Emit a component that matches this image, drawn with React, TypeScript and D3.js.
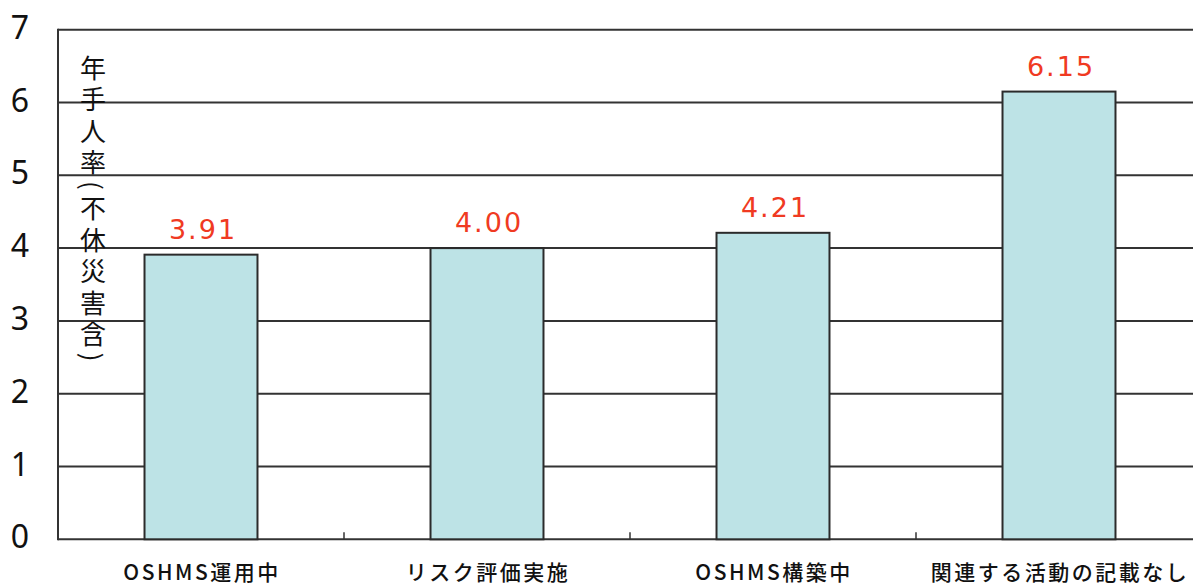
import React from "react";
import * as d3 from "d3";

const categories = ["OSHMS運用中", "リスク評価実施", "OSHMS構築中", "関連する活動の記載なし"];
const values = [3.91, 4.0, 4.21, 6.15];
const valueLabels = ["3.91", "4.00", "4.21", "6.15"];
const yTicks = [0, 1, 2, 3, 4, 5, 6, 7];
const yTitle = "年手人率(不休災害含)";

const W = 1193;
const H = 586;

export default function App() {
  const left = 58;
  const x = d3
    .scaleBand<string>()
    .domain(categories)
    .range([left, left + 286 * categories.length])
    .paddingInner(0.605)
    .paddingOuter(0.3025);
  const y = d3.scaleLinear().domain([0, 7]).range([539.3, 29.7]);
  const step = x.step();
  const [r0] = x.range();
  const gridColor = "#333";

  return (
    <svg
      width={W}
      height={H}
      style={{ position: "absolute", left: 0, top: 0, background: "#fff" }}
    >
      {/* gridlines */}
      {yTicks.map((t) => (
        <line
          key={"g" + t}
          x1={left}
          x2={W + 20}
          y1={y(t)}
          y2={y(t)}
          stroke={gridColor}
          strokeWidth={2}
        />
      ))}
      {/* left axis */}
      <line x1={left} x2={left} y1={y(7) - 1} y2={y(0) + 1} stroke={gridColor} strokeWidth={2} />
      {/* category ticks */}
      {categories.map((c, i) =>
        i === 0 ? null : (
          <line
            key={"t" + c}
            x1={r0 + i * step}
            x2={r0 + i * step}
            y1={y(0)}
            y2={y(0) - 7}
            stroke={gridColor}
            strokeWidth={1.5}
          />
        )
      )}
      {/* y tick labels */}
      {yTicks.map((t) => (
        <text
          key={"yl" + t}
          x={20}
          y={y(t) - 3.5}
          textAnchor="middle"
          dominantBaseline="central"
          fontFamily="'Noto Sans', 'Liberation Sans', sans-serif"
          fontSize={32}
          fill="#111"
        >
          {t}
        </text>
      ))}
      {/* bars */}
      {categories.map((c, i) => (
        <rect
          key={"b" + c}
          x={x(c)}
          y={y(values[i])}
          width={x.bandwidth()}
          height={y(0) - y(values[i])}
          fill="#bde3e6"
          stroke="#2b2b2b"
          strokeWidth={2}
        />
      ))}
      {/* value labels */}
      {categories.map((c, i) => (
        <text
          key={"v" + c}
          x={(x(c) as number) + x.bandwidth() / 2 + 2}
          y={y(values[i]) - 16}
          textAnchor="middle"
          fontFamily="'DejaVu Sans', sans-serif"
          fontSize={27}
          letterSpacing={2}
          fill="#f03a22"
        >
          {valueLabels[i]}
        </text>
      ))}
      {/* category labels */}
      {categories.map((c) => (
        <text
          key={"c" + c}
          x={(x(c) as number) + x.bandwidth() / 2 + 1}
          y={580}
          textAnchor="middle"
          fontFamily="'Noto Sans CJK JP', sans-serif"
          fontWeight={500}
          fontSize={21}
          letterSpacing={2.5}
          fill="#111"
        >
          {c}
        </text>
      ))}
      {/* y title, vertical */}
      <text
        x={93}
        y={55}
        style={{ writingMode: "vertical-rl" as any }}
        fontFamily="'Noto Sans CJK JP', sans-serif"
        fontSize={26}
        letterSpacing={5.5}
        fill="#111"
      >
        {yTitle}
      </text>
    </svg>
  );
}
